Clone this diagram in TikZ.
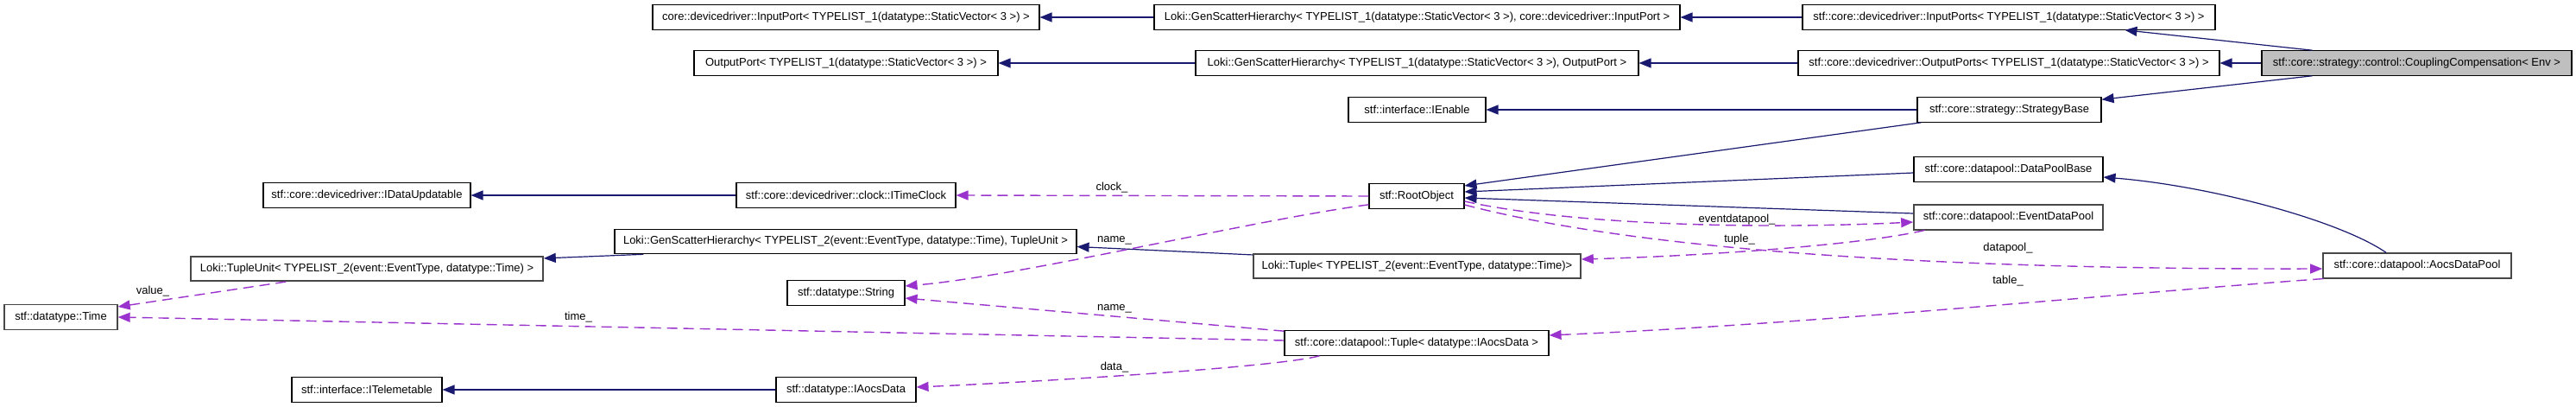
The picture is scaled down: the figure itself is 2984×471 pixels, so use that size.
\documentclass[tikz,border=0pt]{standalone}
\usepackage{fontspec}
\setmainfont{Liberation Sans}
\usetikzlibrary{arrows.meta,calc}
\definecolor{inhcol}{HTML}{191970}
\definecolor{usecol}{HTML}{9A32CD}
\definecolor{ccgray}{HTML}{BFBFBF}
\begin{document}
\begin{tikzpicture}[x=1pt,y=-1pt,
  box/.style={draw=black, line width=1.1pt, fill=white, minimum height=28.5pt, inner sep=0pt, font=\fontsize{13}{15}\selectfont, anchor=center},
  gbox/.style={box, draw=black!72, line width=1.6pt},
  inh/.style={draw=inhcol, line width=1.2pt, -{Triangle[length=14pt,width=11pt]}},
  use/.style={draw=usecol, line width=1.4pt, dash pattern=on 12pt off 7pt, -{Triangle[length=14pt,width=11pt]}},
  lbl/.style={font=\fontsize{13}{15}\selectfont, inner sep=0pt}]
\useasboundingbox (0,0) rectangle (2984,471);
\fill[white] (0,0) rectangle (2984,471);

% column 1 (rightmost)
\node[box, fill=ccgray, minimum width=359pt] (CC) at (2799.5,73) {stf::core::strategy::control::CouplingCompensation< Env >};
\node[gbox, minimum width=218pt] (ADP) at (2800,307.5) {stf::core::datapool::AocsDataPool};
% column 2
\node[box, minimum width=478pt] (InPs) at (2327,20) {stf::core::devicedriver::InputPorts< TYPELIST\_1(datatype::StaticVector< 3 >) >};
\node[box, minimum width=488pt] (OutPs) at (2327,73) {stf::core::devicedriver::OutputPorts< TYPELIST\_1(datatype::StaticVector< 3 >) >};
\node[box, minimum width=213pt] (SB) at (2327.5,127) {stf::core::strategy::StrategyBase};
\node[box, minimum width=219pt] (DPB) at (2326.5,196) {stf::core::datapool::DataPoolBase};
\node[gbox, minimum width=219pt] (EDP) at (2326.5,251.5) {stf::core::datapool::EventDataPool};
% column 3
\node[box, minimum width=609pt] (GSIn) at (1641.5,20) {Loki::GenScatterHierarchy< TYPELIST\_1(datatype::StaticVector< 3 >), core::devicedriver::InputPort >};
\node[box, minimum width=513pt] (GSOut) at (1641.5,73) {Loki::GenScatterHierarchy< TYPELIST\_1(datatype::StaticVector< 3 >), OutputPort >};
\node[box, minimum width=159pt] (IEn) at (1641.5,127) {stf::interface::IEnable};
\node[box, minimum width=110pt] (Root) at (1641,227) {stf::RootObject};
\node[gbox, minimum width=379pt] (LT) at (1641.5,308) {Loki::Tuple< TYPELIST\_2(event::EventType, datatype::Time)>};
\node[box, minimum width=306pt] (TIA) at (1641,397) {stf::core::datapool::Tuple< datatype::IAocsData >};
% column 4
\node[box, minimum width=448pt] (InP) at (980,20) {core::devicedriver::InputPort< TYPELIST\_1(datatype::StaticVector< 3 >) >};
\node[box, minimum width=352pt] (OutP) at (980,73) {OutputPort< TYPELIST\_1(datatype::StaticVector< 3 >) >};
\node[box, minimum width=254pt] (ITC) at (980,226) {stf::core::devicedriver::clock::ITimeClock};
\node[box, minimum width=535pt] (GST2) at (979.5,279.5) {Loki::GenScatterHierarchy< TYPELIST\_2(event::EventType, datatype::Time), TupleUnit >};
\node[box, minimum width=136pt] (Str) at (980,339) {stf::datatype::String};
\node[box, minimum width=162pt] (IAD) at (980,451) {stf::datatype::IAocsData};
% column 5
\node[box, minimum width=240pt] (IDU) at (425,226) {stf::core::devicedriver::IDataUpdatable};
\node[gbox, minimum width=408pt] (TU) at (425,311) {Loki::TupleUnit< TYPELIST\_2(event::EventType, datatype::Time) >};
\node[box, minimum width=174pt] (ITel) at (425,451) {stf::interface::ITelemetable};
% column 6
\node[gbox, line width=1.3pt, minimum width=131pt] (Time) at (70.5,367) {stf::datatype::Time};

% inheritance edges
\draw[inh] ($(CC.north west)+(59,0)$) -- ($(InPs.south west)+(374,0)$);
\draw[inh] (CC.west) -- (OutPs.east);
\draw[inh] ($(CC.south west)+(59,0)$) -- ($(SB.north east)+(0,3)$);
\draw[inh] (InPs.west) -- (GSIn.east);
\draw[inh] (OutPs.west) -- (GSOut.east);
\draw[inh] (GSIn.west) -- (InP.east);
\draw[inh] (GSOut.west) -- (OutP.east);
\draw[inh] (SB.west) -- (IEn.east);
\draw[inh] ($(SB.south west)+(5,0)$) -- ($(Root.east)+(0,-12)$);
\draw[inh] ($(DPB.west)+(0,4)$) -- ($(Root.east)+(0,-5)$);
\draw[inh] ($(EDP.west)+(0,-4.5)$) -- ($(Root.east)+(0,2)$);
\draw[inh] ($(ADP.north west)+(74,0)$) .. controls (2710,255) and (2560,215) .. ($(DPB.east)+(0,9)$);
\draw[inh] (ITC.west) -- (IDU.east);
\draw[inh] ($(LT.north west)+(0,2)$) -- ($(GST2.east)+(0,6)$);
\draw[inh] ($(GST2.south west)+(34,0)$) -- ($(TU.north east)+(0,3)$);
\draw[inh] (IAD.west) -- (ITel.east);

% usage edges
\draw[use] (Root.west) -- (ITC.east);
\draw[use] ($(Root.south west)+(0,-5)$) .. controls (1450,255) and (1180,320) .. ($(Str.east)+(0,-8)$);
\draw[use] ($(TIA.north west)+(0,1)$) -- ($(Str.east)+(0,6)$);
\draw[use] ($(TIA.west)+(0,-3)$) -- (Time.east);
\draw[use] ($(TIA.south west)+(41,0)$) .. controls (1480,425) and (1200,442) .. ($(IAD.east)+(0,-3)$);
\draw[use] ($(TU.south west)+(111,0)$) -- ($(Time.east)+(0,-12)$);
\draw[use] ($(Root.east)+(0,6)$) .. controls (1830,262) and (2050,265) .. ($(EDP.west)+(0,5.5)$);
\draw[use] ($(EDP.south west)+(13,0)$) .. controls (2150,285) and (1950,297) .. ($(LT.east)+(0,-8)$);
\draw[use] ($(Root.east)+(0,10)$) .. controls (1880,285) and (2200,312) .. ($(ADP.west)+(0,3.5)$);
\draw[use] ($(ADP.south west)+(1,0)$) .. controls (2450,340) and (2100,375) .. ($(TIA.east)+(0,-9)$);

% labels
\node[lbl] (lclock) at (1288,217) {clock\_};
\node[lbl] (lname1) at (1291,278) {name\_};
\node[lbl] (lname2) at (1291,357) {name\_};
\node[lbl] (ldata) at (1291,425) {data\_};
\node[lbl] (ltime) at (670,367) {time\_};
\node[lbl] (lvalue) at (177,337) {value\_};
\node[lbl] (levent) at (2012,254) {eventdatapool\_};
\node[lbl] (ltuple) at (2015,277) {tuple\_};
\node[lbl] (ldatapool) at (2326,287) {datapool\_};
\node[lbl] (ltable) at (2326,325) {table\_};
\end{tikzpicture}
\end{document}
